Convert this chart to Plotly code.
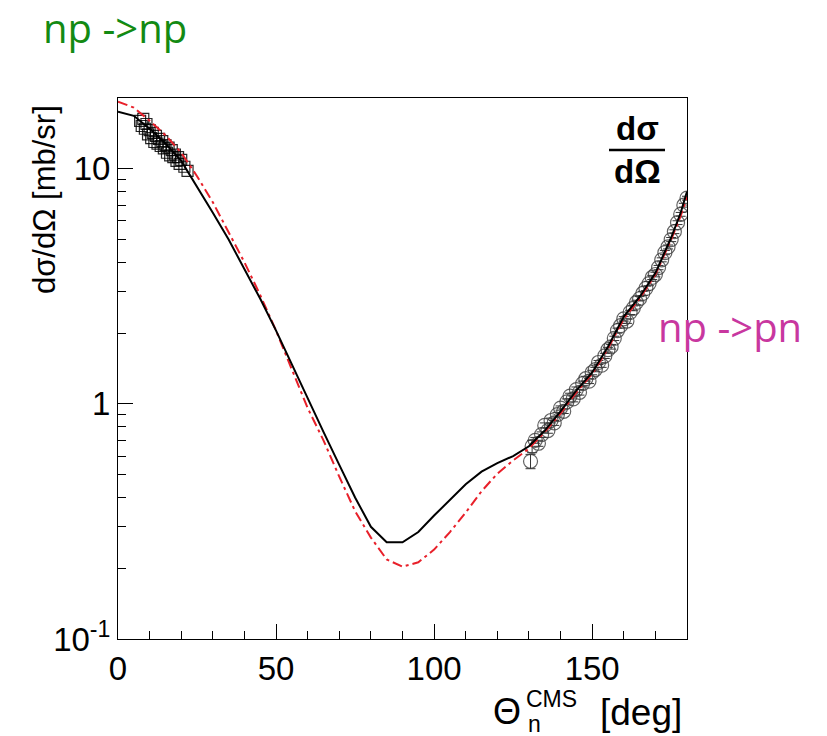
import plotly.graph_objects as go

# ---------------- data ----------------
theory_x = [0, 5, 10, 15, 20, 25, 30, 35, 40, 45, 50, 55, 60, 65, 70, 75, 80, 85, 90,
            95, 100, 105, 110, 115, 120, 125, 130, 135, 140, 145, 150, 155, 160, 165,
            170, 175, 178, 180]
black_y = [17.5, 16.8, 14.8, 12.8, 10.8, 8.4, 6.5, 5.0, 3.75, 2.8, 2.05, 1.47, 1.05, 0.76,
           0.55, 0.40, 0.30, 0.258, 0.258, 0.285, 0.335, 0.39, 0.455, 0.515, 0.56, 0.60,
           0.66, 0.77, 0.93, 1.14, 1.36, 1.75, 2.35, 2.85, 3.6, 5.1, 6.5, 8.0]
red_y = [19.3, 18.2, 16.0, 13.9, 11.7, 9.3, 7.2, 5.4, 4.0, 2.9, 2.05, 1.40, 0.96, 0.70,
         0.49, 0.35, 0.27, 0.218, 0.203, 0.212, 0.24, 0.285, 0.345, 0.425, 0.505, 0.575,
         0.645, 0.76, 0.91, 1.12, 1.34, 1.72, 2.3, 2.8, 3.55, 5.0, 6.3, 7.6]

fwd_x = [7.0, 7.5, 8.0, 8.5, 9.0, 9.5, 10.0, 10.5, 11.0, 11.5, 12.0, 12.5, 13.0, 13.5,
         14.0, 14.5, 15.0, 15.5, 16.0, 16.5, 17.0, 17.5, 18.0, 18.5, 19.0, 19.5, 20.0,
         21.0, 22.0]
fwd_y = [16.0, 15.2, 16.3, 14.8, 15.5, 14.0, 14.6, 13.5, 14.2, 13.0, 13.8, 12.8, 13.4,
         12.5, 13.1, 12.2, 12.6, 11.7, 12.3, 11.4, 12.0, 11.2, 11.5, 10.8, 11.2, 10.5,
         10.9, 10.2, 9.8]

bwd_x = [130.5, 131, 132, 133, 134, 135, 136, 137, 138, 139, 140, 141, 142, 143, 144,
         145, 146, 147, 148, 149, 150, 151, 152, 153, 154, 155, 156, 157, 158, 159, 160,
         161, 162, 163, 164, 165, 166, 167, 168, 169, 170, 171, 172, 173, 174, 175, 176,
         177, 178, 179, 180]
bwd_y = [0.57, 0.66, 0.70, 0.68, 0.74, 0.81, 0.77, 0.85, 0.83, 0.90, 0.96, 0.93, 1.02,
         1.08, 1.05, 1.15, 1.12, 1.22, 1.28, 1.25, 1.36, 1.40, 1.50, 1.46, 1.60, 1.70,
         1.75, 1.90, 2.05, 2.15, 2.30, 2.25, 2.45, 2.55, 2.70, 2.80, 2.95, 3.10, 3.25,
         3.45, 3.55, 3.80, 4.10, 4.40, 4.65, 5.00, 5.40, 5.90, 6.40, 7.00, 7.50]
bwd_err = [0.04, 0.04, 0.02, 0.02, 0.02, 0.02, 0.02, 0.02, 0.02, 0.02, 0.02, 0.02, 0.03,
           0.03, 0.03, 0.03, 0.03, 0.03, 0.03, 0.03, 0.03, 0.03, 0.03, 0.03, 0.04, 0.04,
           0.04, 0.04, 0.05, 0.05, 0.05, 0.05, 0.05, 0.06, 0.06, 0.06, 0.06, 0.07, 0.07,
           0.07, 0.08, 0.08, 0.08, 0.09, 0.09, 0.10, 0.10, 0.11, 0.12, 0.13, 0.14]

y_tickvals = [0.1, 1, 10]
y_ticktext = ["10<sup>-1</sup>", "1", "10"]
y_minor = [0.2, 0.3, 0.4, 0.5, 0.6, 0.7, 0.8, 0.9, 2, 3, 4, 5, 6, 7, 8, 9, 20]
x_tickvals = [0, 50, 100, 150]

# ---------------- layout geometry ----------------
W, H = 827, 736
L, R, T, B = 118, 687, 98, 639


def px(x):
    return (x - L) / (R - L)


def py(y):
    return (B - y) / (B - T)


fig = go.Figure()

fig.add_trace(go.Scatter(x=fwd_x, y=fwd_y, mode="markers",
                         marker=dict(symbol="square-open", size=11,
                                     color="rgba(0,0,0,0.85)", line=dict(width=1.2)),
                         showlegend=False))
fig.add_trace(go.Scatter(x=bwd_x, y=bwd_y, mode="markers",
                         error_y=dict(type="data", array=bwd_err, color="#333",
                                      thickness=1, width=5),
                         marker=dict(symbol="circle-open", size=14,
                                     color="rgba(60,60,60,0.8)", line=dict(width=1.2)),
                         showlegend=False))
fig.add_trace(go.Scatter(x=theory_x, y=red_y, mode="lines",
                         line=dict(color="#e8202a", width=2, dash="10px,4px,3px,4px"),
                         showlegend=False))
fig.add_trace(go.Scatter(x=theory_x, y=black_y, mode="lines",
                         line=dict(color="black", width=2),
                         showlegend=False))

tickfont = dict(family="Liberation Sans, Arial, sans-serif", size=33, color="black")

fig.update_layout(
    width=W, height=H,
    margin=dict(l=L, r=W - R, t=T, b=H - B),
    paper_bgcolor="white", plot_bgcolor="white",
    showlegend=False,
    xaxis=dict(range=[0, 180], showgrid=False, zeroline=False,
               showline=True, linecolor="black", linewidth=1, mirror=True,
               ticks="inside", ticklen=15, tickwidth=1, tickcolor="black",
               tickvals=x_tickvals, tickfont=tickfont,
               minor=dict(ticks="inside", ticklen=8, dtick=10, tickcolor="black",
                          showgrid=False)),
    yaxis=dict(type="log", range=[-1, 1.301], showgrid=False, zeroline=False,
               showline=True, linecolor="black", linewidth=1, mirror=True,
               ticks="inside", ticklen=15, tickwidth=1, tickcolor="black",
               tickvals=y_tickvals, ticktext=y_ticktext, tickfont=tickfont,
               minor=dict(ticks="inside", ticklen=8, tickvals=y_minor,
                          tickcolor="black", showgrid=False)),
)

annots = []
font_ax = dict(family="Liberation Sans, Arial, sans-serif", color="black")


def ann(text, x, y, size, font=None, angle=0):
    f = dict(font_ax) if font is None else dict(font)
    f["size"] = size
    annots.append(dict(text=text, x=px(x), y=py(y), xref="paper", yref="paper",
                       xanchor="center", yanchor="middle", textangle=angle,
                       showarrow=False, font=f))


# y title
ann("dσ/dΩ [mb/sr]", 44, 200, 31, angle=-90)
# x title pieces
ann("Θ", 507, 711, 36)
ann("CMS", 551, 699, 23)
ann("n", 534, 724, 23)
ann("[deg]", 641, 712, 37)
# fraction in plot
ann("<b>dσ</b>", 637, 128, 33)
ann("<b>dΩ</b>", 637, 172, 33)
# labels outside
ann("np -&gt;np", 115, 28, 40,
    font=dict(family="Open Sans, sans-serif", color="#138a13"))
ann("np -&gt;pn", 730, 326, 40,
    font=dict(family="Open Sans, sans-serif", color="#c8379f"))
fig.update_layout(annotations=annots)

fig.add_shape(type="line", xref="paper", yref="paper",
              x0=px(609), x1=px(665), y0=py(150), y1=py(150),
              line=dict(color="black", width=2.5))

fig.write_html("out.html")
